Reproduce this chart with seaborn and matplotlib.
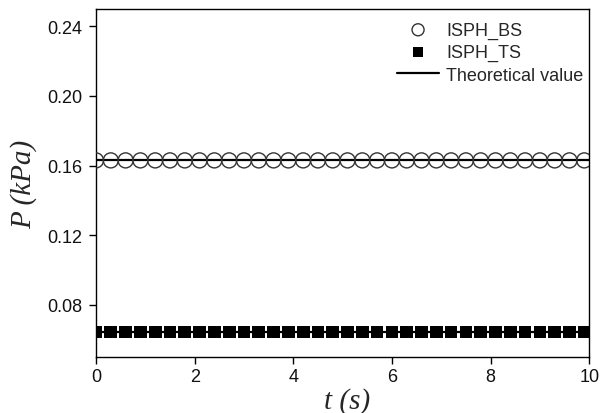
import matplotlib
matplotlib.use("Agg")
import matplotlib.pyplot as plt
import seaborn as sns
import pandas as pd

sns.set_style("ticks")
plt.rcParams["font.family"] = ["Liberation Sans", "DejaVu Sans"]

# time samples (s)
t = [0.0, 0.3, 0.6, 0.9, 1.2, 1.5, 1.8, 2.1, 2.4, 2.7, 3.0, 3.3,
     3.6, 3.9, 4.2, 4.5, 4.8, 5.1, 5.4, 5.7, 6.0, 6.3, 6.6, 6.9,
     7.2, 7.5, 7.8, 8.1, 8.4, 8.7, 9.0, 9.3, 9.6, 9.9]

# pressure (kPa)
p_bs = [0.163, 0.163, 0.163, 0.163, 0.163, 0.163, 0.163, 0.163, 0.163,
        0.163, 0.163, 0.163, 0.163, 0.163, 0.163, 0.163, 0.163, 0.163,
        0.163, 0.163, 0.163, 0.163, 0.163, 0.163, 0.163, 0.163, 0.163,
        0.163, 0.163, 0.163, 0.163, 0.163, 0.163, 0.163]
p_ts = [0.0645, 0.0645, 0.0645, 0.0645, 0.0645, 0.0645, 0.0645, 0.0645,
        0.0645, 0.0645, 0.0645, 0.0645, 0.0645, 0.0645, 0.0645, 0.0645,
        0.0645, 0.0645, 0.0645, 0.0645, 0.0645, 0.0645, 0.0645, 0.0645,
        0.0645, 0.0645, 0.0645, 0.0645, 0.0645, 0.0645, 0.0645, 0.0645,
        0.0645, 0.0645]

# theoretical values
theory_t = [0.0, 10.0]
theory_bs = [0.163, 0.163]
theory_ts = [0.0645, 0.0645]

df_bs = pd.DataFrame({"t": t, "p": p_bs})
df_ts = pd.DataFrame({"t": t, "p": p_ts})

fig = plt.figure(figsize=(6, 4.14), dpi=100)
ax = fig.add_axes([0.16, 0.135, 0.822, 0.841])

sns.lineplot(x=theory_t, y=theory_bs, color="black", linewidth=1.6,
             ax=ax, label="Theoretical value", zorder=2)
sns.lineplot(x=theory_t, y=theory_ts, color="black", linewidth=1.6,
             ax=ax, zorder=2)
sns.scatterplot(data=df_bs, x="t", y="p", marker="o", s=117,
                facecolor="none", edgecolor="#333333", linewidth=1.0,
                ax=ax, label="ISPH_BS", zorder=3)
sns.scatterplot(data=df_ts, x="t", y="p", marker="s", s=84,
                color="black", edgecolor="none", linewidth=0,
                ax=ax, label="ISPH_TS", zorder=3)

ax.set_xlim(0, 10)
ax.set_ylim(0.05, 0.25)
ax.set_xticks([0, 2, 4, 6, 8, 10])
ax.set_yticks([0.08, 0.12, 0.16, 0.20, 0.24])
ax.set_yticklabels(["0.08", "0.12", "0.16", "0.20", "0.24"])
ax.tick_params(axis="both", labelsize=13, direction="out", length=5,
               width=1, colors="black", labelcolor="#111111",
               top=False, right=False, pad=3)
ax.tick_params(axis="y", pad=5)

for s in ax.spines.values():
    s.set_visible(True)
    s.set_color("black")
    s.set_linewidth(1.0)

ax.set_xlabel("t (s)", family="Liberation Serif", style="italic",
              fontsize=21, labelpad=0)
ax.xaxis.set_label_coords(0.51, -0.085)
ax.set_ylabel("P (kPa)", family="Liberation Serif", style="italic",
              fontsize=21)
ax.yaxis.set_label_coords(-0.12, 0.5)

handles, labels = ax.get_legend_handles_labels()
order = [labels.index("ISPH_BS"), labels.index("ISPH_TS"),
         labels.index("Theoretical value")]
ax.legend([handles[i] for i in order], [labels[i] for i in order],
          loc="upper right", bbox_to_anchor=(1.01, 0.995), frameon=False,
          fontsize=13, handlelength=2.3, handletextpad=0.4,
          labelspacing=0.3, borderaxespad=0.2, markerscale=0.8)

fig.savefig("out.png", dpi=100)
